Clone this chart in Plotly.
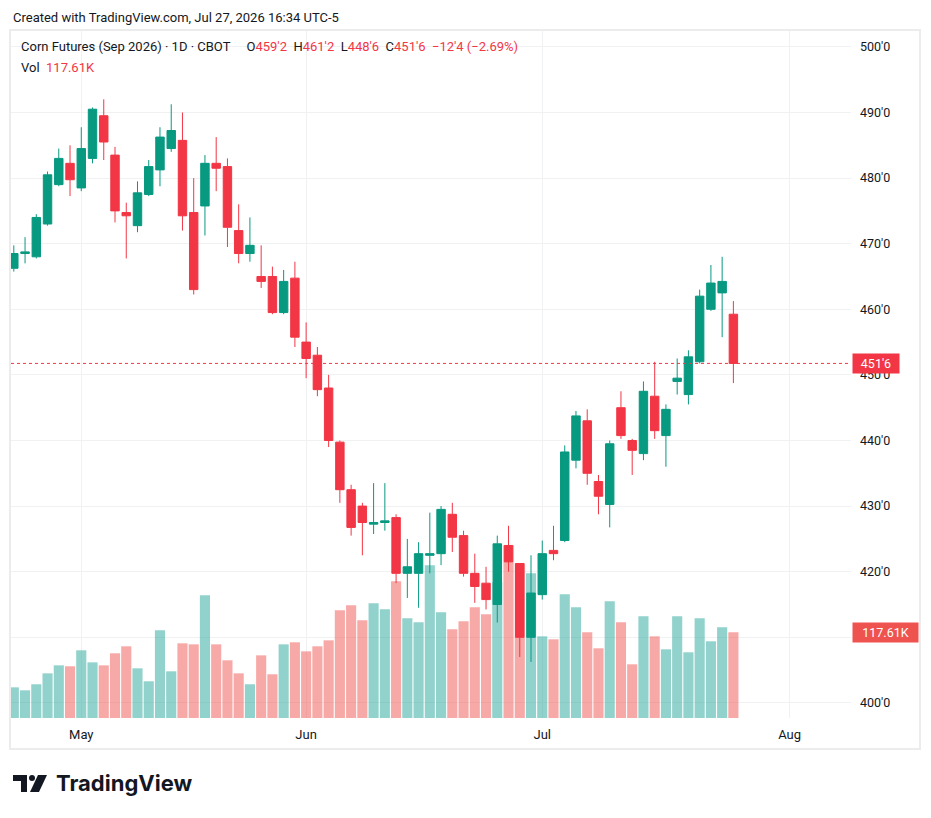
import plotly.graph_objects as go
import pandas as pd

# ---------------- data ----------------
holidays = ["2026-05-25", "2026-06-19", "2026-07-03"]
axis_days = [d.strftime("%Y-%m-%d") for d in pd.bdate_range("2026-04-23", "2026-08-14")]
axis_days = [d for d in axis_days if d not in holidays]
dates = axis_days[:65]  # 2026-04-23 ... 2026-07-27

opens = [466.25, 468.5, 468.0, 473.0, 479.0, 482.25, 478.5, 483.0, 489.5, 483.5,
         474.75, 472.75, 477.5, 481.25, 484.5, 485.75, 474.75, 475.75, 482.25, 481.75,
         472.0, 468.5, 465.0, 465.0, 459.5, 464.75, 455.0, 453.0, 448.0, 439.75,
         432.5, 430.0, 427.25, 427.5, 428.25, 419.75, 419.75, 422.5, 422.75, 428.75,
         425.5, 419.75, 418.25, 415.0, 424.0, 421.25, 410.0, 416.5, 423.25, 424.75,
         437.0, 443.0, 433.75, 430.25, 445.0, 440.0, 438.0, 446.75, 440.75, 449.0,
         447.0, 452.0, 460.0, 462.5, 459.25]
highs = [469.75, 471.0, 474.5, 481.0, 484.5, 485.0, 487.75, 490.75, 492.0, 484.75,
         476.25, 479.5, 482.75, 487.75, 491.25, 490.0, 480.0, 483.5, 486.25, 483.0,
         476.0, 474.0, 469.75, 466.5, 466.0, 467.25, 458.0, 454.25, 450.0, 440.0,
         433.25, 430.5, 433.5, 433.5, 428.75, 425.0, 424.5, 429.0, 430.0, 430.5,
         426.25, 422.75, 420.75, 425.5, 427.0, 421.25, 422.5, 424.75, 427.0, 439.25,
         444.5, 444.75, 434.75, 440.0, 447.5, 440.25, 449.0, 452.0, 445.5, 452.5,
         453.75, 463.0, 466.75, 468.0, 461.25]
lows = [465.75, 467.0, 467.75, 472.75, 478.75, 477.25, 478.0, 482.25, 482.75, 473.25,
        467.75, 471.75, 477.25, 478.75, 484.0, 472.0, 462.25, 471.25, 478.0, 469.5,
        467.0, 467.25, 463.25, 459.25, 459.25, 454.25, 449.5, 446.75, 439.0, 430.5,
        425.5, 422.5, 425.75, 426.25, 418.25, 416.0, 414.5, 419.75, 421.0, 423.0,
        419.25, 415.25, 414.25, 412.25, 420.0, 407.0, 406.25, 415.75, 421.75, 424.5,
        435.75, 433.25, 428.75, 426.75, 440.25, 434.75, 437.0, 440.25, 436.0, 447.0,
        445.5, 451.75, 459.75, 455.75, 448.75]
closes = [468.5, 468.75, 474.0, 480.5, 483.0, 479.75, 484.5, 490.5, 485.5, 475.0,
          474.25, 477.75, 481.75, 486.25, 487.25, 474.25, 463.0, 482.25, 481.5, 472.5,
          468.5, 469.75, 464.25, 459.5, 464.25, 455.75, 452.5, 447.75, 440.0, 432.5,
          426.75, 427.5, 427.5, 427.75, 419.75, 420.75, 422.75, 422.75, 429.5, 425.25,
          419.75, 417.75, 415.75, 424.25, 421.5, 410.0, 416.75, 422.75, 422.75, 438.25,
          443.75, 435.0, 431.5, 439.5, 440.75, 438.5, 447.5, 441.5, 444.75, 449.5,
          452.75, 462.0, 464.0, 464.25, 451.75]
volumes_k = [42.1, 38.0, 46.3, 61.3, 72.3, 71.0, 92.9, 76.4, 72.3, 88.8,
             98.4, 68.2, 50.4, 120.4, 64.1, 102.5, 101.1, 168.4, 101.1, 79.2,
             61.3, 46.3, 86.0, 60.0, 101.1, 103.9, 91.5, 98.4, 106.6, 147.8,
             154.7, 134.1, 157.4, 149.2, 187.6, 136.8, 131.3, 209.6, 145.1, 121.7,
             132.7, 151.9, 142.3, 186.2, 237.0, 212.3, 198.6, 112.1, 108.0, 169.8,
             151.9, 117.6, 95.7, 160.2, 131.3, 73.7, 139.6, 112.1, 94.3, 139.6,
             90.2, 136.8, 105.3, 124.5, 117.61]
volumes = [v * 1000 for v in volumes_k]

month_ticks = ["2026-05-01", "2026-06-01", "2026-07-01", "2026-08-03"]
month_labels = ["May", "Jun", "Jul", "Aug"]
price_ticks = [400, 410, 420, 430, 440, 450, 460, 470, 480, 490, 500]

# ---------------- styling helpers ----------------
UP = "#089981"
DOWN = "#F23645"
UP_VOL = "rgba(38,166,154,0.5)"
DOWN_VOL = "rgba(239,83,80,0.5)"
TXT = "#131722"
GRID = "#f0f1f3"
FONT = "Roboto"

# page body has an 8px margin; work in screenshot pixels and shift
OFF = 8
W, H = 915, 802
PLOT_L, PLOT_R, PLOT_T, PLOT_B = 11, 851, 31, 718  # screenshot pixels
L = PLOT_L - OFF
T = PLOT_T - OFF
R = W - (PLOT_R - OFF)
B = H - (PLOT_B - OFF)
PW, PH = PLOT_R - PLOT_L, PLOT_B - PLOT_T


def fmt(p):
    sign = "−" if p < 0 else ""
    p = abs(p)
    whole = int(p)
    eighths = int(round((p - whole) * 8))
    return f"{sign}{whole}'{eighths}"


def px(x):
    return (x - PLOT_L) / PW


def py(y):
    return (PLOT_B - y) / PH


vol_colors = [UP_VOL if c >= o else DOWN_VOL for o, c in zip(opens, closes)]

fig = go.Figure()
fig.add_trace(go.Bar(
    x=dates, y=volumes, marker=dict(color=vol_colors, line=dict(width=0)),
    yaxis="y", xaxis="x", hoverinfo="skip", showlegend=False))
fig.add_trace(go.Candlestick(
    x=dates, open=opens, high=highs, low=lows, close=closes,
    increasing=dict(line=dict(color=UP, width=1), fillcolor=UP),
    decreasing=dict(line=dict(color=DOWN, width=1), fillcolor=DOWN),
    xaxis="x", yaxis="y2", hoverinfo="skip", showlegend=False))

last_o, last_h, last_l, last_c = opens[-1], highs[-1], lows[-1], closes[-1]
prev_c = closes[-2]
chg = last_c - prev_c
pct = chg / prev_c * 100
red = DOWN
sp = "&nbsp;&nbsp;"
legend1 = (f"Corn Futures (Sep 2026) · 1D · CBOT&nbsp;&nbsp;&nbsp;&nbsp;&nbsp;"
           f"O<span style='color:{red}'>{fmt(last_o)}</span>{sp}"
           f"H<span style='color:{red}'>{fmt(last_h)}</span>{sp}"
           f"L<span style='color:{red}'>{fmt(last_l)}</span>{sp}"
           f"C<span style='color:{red}'>{fmt(last_c)}</span>{sp}"
           f"<span style='color:{red}'>{fmt(chg)} ({'−' if pct < 0 else '+'}{abs(pct):.2f}%)</span>")
legend2 = f"Vol{sp}<span style='color:{red}'>{volumes_k[-1]:.2f}K</span>"

annotations = [
    dict(text="Created with TradingView.com, Jul 27, 2026 16:34 UTC-5", xref="paper", yref="paper",
         x=px(11), y=py(18), xanchor="left", yanchor="middle", showarrow=False,
         font=dict(family=FONT, size=13, color=TXT)),
    dict(text=legend1, xref="paper", yref="paper", x=px(19), y=py(47), xanchor="left",
         yanchor="middle", showarrow=False, font=dict(family=FONT, size=13, color=TXT)),
    dict(text=legend2, xref="paper", yref="paper", x=px(19), y=py(67), xanchor="left",
         yanchor="middle", showarrow=False, font=dict(family=FONT, size=13, color=TXT)),
    dict(text=fmt(last_c), xref="paper", yref="y2", x=1, y=last_c, xanchor="left",
         yanchor="middle", showarrow=False, xshift=1, bgcolor=DOWN, width=42, height=15,
         borderpad=2, align="center", font=dict(family=FONT, size=12.5, color="white")),
    dict(text=f"{volumes_k[-1]:.2f}K", xref="paper", yref="y", x=1, y=volumes[-1],
         xanchor="left", yanchor="middle", showarrow=False, xshift=1, bgcolor="#ef5350",
         width=61, height=15, borderpad=2, align="center",
         font=dict(family=FONT, size=12.5, color="white")),
    dict(text="<b>TradingView</b>", xref="paper", yref="paper", x=px(54), y=py(783),
         xanchor="left", yanchor="middle", showarrow=False,
         font=dict(family="Inter", size=22, color=TXT)),
]


def path(points):
    return "M " + " L ".join(f"{px(a):.5f},{py(b):.5f}" for a, b in points) + " Z"


shapes = [
    dict(type="line", xref="paper", yref="y2", x0=0, x1=1, y0=last_c, y1=last_c,
         line=dict(color=DOWN, width=1, dash="dot")),
    dict(type="rect", xref="paper", yref="paper", x0=px(10), x1=px(920), y0=py(749), y1=py(30),
         line=dict(color="#ececec", width=2), fillcolor="rgba(0,0,0,0)", layer="below"),
    # TradingView logo mark
    dict(type="path", xref="paper", yref="paper",
         path=path([(13, 775), (27, 775), (27, 792), (21, 792), (21, 781), (13, 781)]),
         fillcolor=TXT, line=dict(width=0)),
    dict(type="circle", xref="paper", yref="paper", x0=px(29), x1=px(35), y0=py(781), y1=py(775),
         fillcolor=TXT, line=dict(width=0)),
    dict(type="path", xref="paper", yref="paper",
         path=path([(38, 775), (47, 775), (39, 792), (30, 792)]),
         fillcolor=TXT, line=dict(width=0)),
]

fig.update_layout(
    width=W, height=H,
    margin=dict(l=L, r=R, t=T, b=B),
    paper_bgcolor="white", plot_bgcolor="white",
    showlegend=False,
    bargap=0.1, boxgap=0.25, boxgroupgap=0,
    font=dict(family=FONT, size=13, color=TXT),
    xaxis=dict(type="category", categoryorder="array", categoryarray=axis_days,
               range=[-0.25, 74.46], tickvals=month_ticks, ticktext=month_labels,
               showgrid=True, gridcolor=GRID, gridwidth=1, zeroline=False, showline=False,
               ticks="", ticklabelstandoff=7, rangeslider=dict(visible=False),
               tickfont=dict(family=FONT, size=13, color=TXT), fixedrange=True),
    yaxis=dict(range=[0, 943000], visible=False, showgrid=False, zeroline=False),
    yaxis2=dict(overlaying="y", side="right", anchor="x", range=[397.7, 502.42],
                tickvals=price_ticks,
                ticktext=["" if v == 410 else fmt(v) for v in price_ticks],
                showgrid=True, gridcolor=GRID, gridwidth=1, zeroline=False, showline=False,
                ticks="", ticklabelstandoff=8,
                tickfont=dict(family=FONT, size=12.5, color=TXT)),
    annotations=annotations,
    shapes=shapes,
)

fig.write_html("out.html")
